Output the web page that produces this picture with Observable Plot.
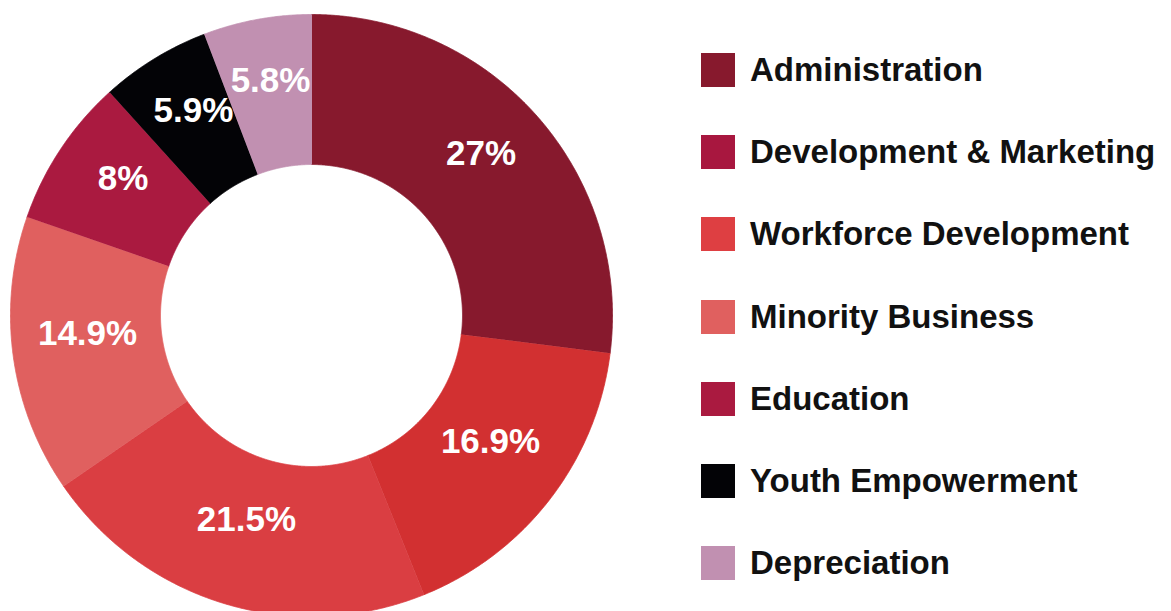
<!DOCTYPE html>
<html><head><meta charset="utf-8">
<script src="https://cdn.jsdelivr.net/npm/d3@7"></script>
<script src="https://cdn.jsdelivr.net/npm/@observablehq/plot@0.6"></script>
<style>
body{margin:0;background:#fff;font-family:"Liberation Sans",Arial,sans-serif;}
#wrap{position:relative;width:1171px;height:611px;overflow:hidden;background:#fff;}
#chart{position:absolute;left:0;top:0;}
#legend{position:absolute;left:701px;top:0;}
.item{position:absolute;left:0;display:flex;align-items:center;height:34px;white-space:nowrap;}
.sw{width:34px;height:34px;margin-right:15px;flex:none;}
.lab{font-size:33px;font-weight:bold;color:#111;letter-spacing:0px;}
</style></head><body>
<div id="wrap"><div id="chart"></div><div id="legend"></div></div>
<script>
// Data
const categories = ["Administration","Development & Marketing","Workforce Development","Minority Business","Education","Youth Empowerment","Depreciation"];
const values = [27, 16.9, 21.5, 14.9, 8, 5.9, 5.8];
const valueLabels = ["27%","16.9%","21.5%","14.9%","8%","5.9%","5.8%"];
const sliceColors = ["#87192d","#d23031","#da3e42","#e0605f","#aa1a40","#030306","#c190b1"];
const legendColors = ["#87192d","#a8173f","#de3f42","#e0605f","#aa1a40","#030306","#c190b1"];

const table = categories.map((name, i) => ({name, value: values[i], label: valueLabels[i]}));
const innerRatio = 151 / 301;
const arcs = d3.pie().sort(null).value(d => d.value).startAngle(0).endAngle(2 * Math.PI)(table);

const pts = [];
const labelPts = [];
for (const p of arcs) {
  const span = p.endAngle - p.startAngle;
  const n = Math.max(2, Math.ceil(span / 0.004));
  for (let i = 0; i <= n; i++) {
    const a = p.startAngle + span * i / n;
    pts.push({name: p.data.name, x: Math.sin(a), y: Math.cos(a)});
  }
  for (let i = n; i >= 0; i--) {
    const a = p.startAngle + span * i / n;
    pts.push({name: p.data.name, x: innerRatio * Math.sin(a), y: innerRatio * Math.cos(a)});
  }
  const mid = (p.startAngle + p.endAngle) / 2;
  const rr = (1 + innerRatio) / 2;
  labelPts.push({name: p.data.name, label: p.data.label, x: rr * Math.sin(mid), y: rr * Math.cos(mid)});
}

const chart = Plot.plot({
  width: 640,
  height: 611,
  axis: null,
  style: {background: "white", fontFamily: "'Liberation Sans', Arial, sans-serif"},
  x: {domain: [-1, 1], range: [10, 612]},
  y: {domain: [-1, 1], range: [616, 14]},
  color: {domain: categories, range: sliceColors},
  marks: [
    Plot.line(pts, {x: "x", y: "y", z: "name", fill: "name", stroke: "name", strokeWidth: 0.8, curve: "linear"}),
    Plot.text(labelPts, {x: "x", y: "y", text: "label", fill: "white", fontSize: 35, fontWeight: "bold", dy: -12})
  ]
});
document.getElementById("chart").appendChild(chart);

const legend = document.getElementById("legend");
categories.forEach((name, i) => {
  const item = document.createElement("div");
  item.className = "item";
  item.style.top = (70 + i * 82.2 - 17) + "px";
  const sw = document.createElement("div");
  sw.className = "sw";
  sw.style.background = legendColors[i];
  const lab = document.createElement("span");
  lab.className = "lab";
  lab.textContent = name;
  item.appendChild(sw);
  item.appendChild(lab);
  legend.appendChild(item);
});
</script>
</body></html>
